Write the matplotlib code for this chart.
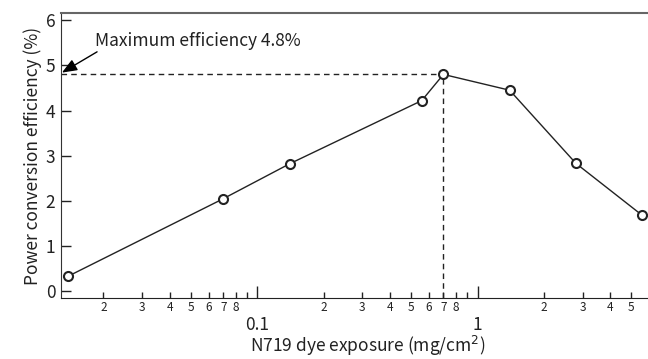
import math
import matplotlib
matplotlib.use("Agg")
import matplotlib.pyplot as plt
from matplotlib.ticker import FixedLocator, FuncFormatter

plt.rcParams['font.family'] = ['Noto Sans CJK JP', 'DejaVu Sans']

exposure = [0.0138, 0.0695, 0.140, 0.558, 0.70, 1.40, 2.80, 5.6]
efficiency = [0.33, 2.04, 2.82, 4.22, 4.80, 4.45, 2.83, 1.68]
max_x = 0.70
max_y = 4.8
y_ticks = [0, 1, 2, 3, 4, 5, 6]
major_x = [0.01, 0.1, 1, 10]
minor_digits = [2, 3, 4, 5, 6, 7, 8, 9]

XMIN, XMAX = 0.01282, 5.95
YMIN, YMAX = -0.15, 6.16

fig = plt.figure(figsize=(6.48, 3.59), dpi=100)
ax = fig.add_axes([0.0941, 0.170, 0.9059, 0.7938])
ax.set_xscale('log')
ax.set_xlim(XMIN, XMAX)
ax.set_ylim(YMIN, YMAX)

txtc = '#222222'
ax.plot(exposure, efficiency, '-', color='#222222', lw=1.0, zorder=3, clip_on=False)
ax.plot(exposure, efficiency, 'o', mfc='white', mec='#222222', mew=1.5, ms=6.5,
        zorder=4, clip_on=False)

ax.plot([XMIN, max_x], [max_y, max_y], ls=(0, (4, 3)), color='#222222', lw=1.0, zorder=2)
ax.plot([max_x, max_x], [YMIN, max_y], ls=(0, (4, 3)), color='#222222', lw=1.0, zorder=2)

ax.text(0.01832, 5.55, 'Maximum efficiency 4.8%', fontsize=12.5, color=txtc,
        va='center', ha='left')
ax.annotate('', xy=(0.01295, 4.84), xytext=(0.0187, 5.30),
            arrowprops=dict(arrowstyle='-|>,head_length=0.7,head_width=0.28',
                            color='black', lw=1.0, mutation_scale=13,
                            shrinkA=0, shrinkB=0),
            annotation_clip=False, zorder=6)

ax.xaxis.set_major_locator(FixedLocator(major_x))
minors = [d * m for m in [0.01, 0.1, 1] for d in minor_digits if d * m < XMAX]
ax.xaxis.set_minor_locator(FixedLocator(minors))
ax.xaxis.set_major_formatter(FuncFormatter(lambda v, p: ('%g' % v)))

def minfmt(v, p):
    e = math.floor(math.log10(v) + 1e-9)
    dig = round(v / 10 ** e)
    return '' if dig == 9 else str(dig)

ax.xaxis.set_minor_formatter(FuncFormatter(minfmt))

ax.tick_params(axis='x', which='major', direction='in', length=9, width=1.0,
               labelsize=12.5, pad=13, colors='#222222')
ax.tick_params(axis='x', which='minor', direction='in', length=4, width=1.0,
               labelsize=8.5, pad=2.5, colors='#222222')
ax.set_yticks(y_ticks)
ax.tick_params(axis='y', which='major', direction='in', length=7, width=1.0,
               labelsize=12.5, pad=4, colors='#222222')

ax.spines['right'].set_visible(False)
ax.spines['top'].set_color('#666666')
ax.spines['top'].set_linewidth(1.5)
ax.spines['left'].set_color('#333333')
ax.spines['bottom'].set_color('#222222')

ax.set_ylabel('Power conversion efficiency (%)', fontsize=12.5, color=txtc, labelpad=3)
ax.set_xlabel('N719 dye exposure (mg/cm$^2$)', fontsize=12.5, color=txtc)
ax.xaxis.set_label_coords(0.523, -0.125)

fig.savefig('out.png', dpi=100)
